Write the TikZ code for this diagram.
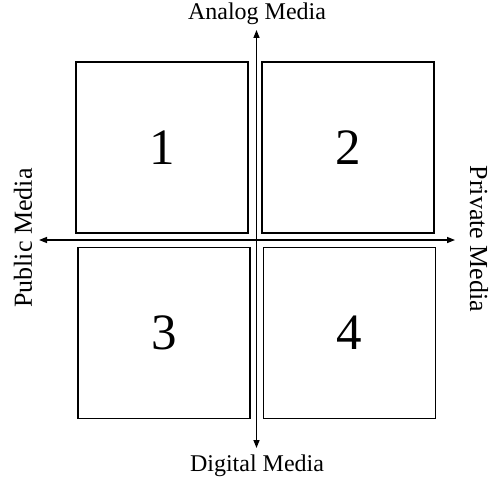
\documentclass[tikz,border=0pt]{standalone}
\usepackage{fontspec}
\setmainfont{Liberation Serif}
\usetikzlibrary{arrows.meta}
\begin{document}
\begin{tikzpicture}[x=1pt,y=-1pt,
  quad/.style={draw=black, line width=1.4pt, minimum width=172pt, minimum height=171pt, inner sep=0pt, font=\fontsize{51}{51}\selectfont},
  axis/.style={draw=black, line width=1.4pt, {Triangle[length=8pt,width=6pt]}-{Triangle[length=8pt,width=6pt]}},
  lab/.style={font=\fontsize{24}{24}\selectfont, inner sep=0pt},
  sidelab/.style={font=\fontsize{26}{26}\selectfont, inner sep=0pt}]
\useasboundingbox (0,0) rectangle (492,484);
\node[quad] (b1) at (162,147.5) {1};
\node[quad] (b2) at (348,147.5) {2};
\node[quad] (b3) at (164,333) {3};
\node[quad] (b4) at (349.5,333) {4};
\coordinate (top) at (256.5,30);
\coordinate (bot) at (256.5,448);
\coordinate (lft) at (39,240);
\coordinate (rgt) at (455,240);
\draw[axis] (top) -- (bot);
\draw[axis] (lft) -- (rgt);
\node[lab] (an) at (257,14) {Analog Media};
\node[lab] (dm) at (257,466) {Digital Media};
\node[sidelab, rotate=90] (pu) at (23,238) {Public Media};
\node[sidelab, rotate=-90] (pr) at (479,239) {Private Media};
\end{tikzpicture}
\end{document}
